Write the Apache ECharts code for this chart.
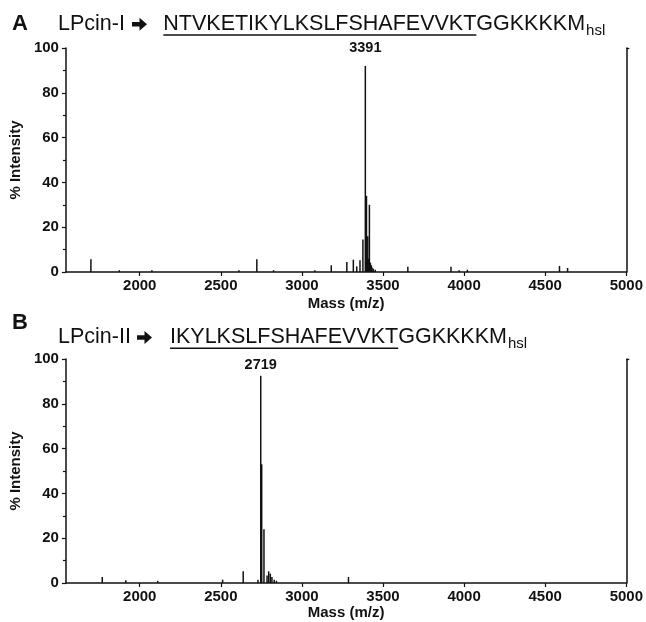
<!DOCTYPE html>
<html>
<head>
<meta charset="utf-8">
<title>LPcin MALDI spectra</title>
<script src="https://cdn.jsdelivr.net/npm/echarts@6/dist/echarts.min.js"></script>
<style>
  html, body { margin: 0; padding: 0; background: #fff; }
  #chart { width: 646px; height: 622px; }
</style>
</head>
<body>
<div id="chart"></div>
<script>
// axis ranges / ticks
const massMin = 1545
const massMax = 5000
const massTicks = [2000, 2500, 3000, 3500, 4000, 4500, 5000]

// panel A: LPcin-I
const massA = [1699, 1874, 2075, 2612, 2722, 2825, 3080, 3181, 3277, 3317, 3338, 3358, 3376,
  3391, 3398, 3403, 3406, 3411, 3416, 3422, 3428, 3432, 3440, 3452, 3653, 3919, 3969, 4020, 4588, 4638]
const intensA = [5.7, 0.8, 0.8, 0.8, 5.7, 0.8, 0.8, 3, 4.5, 5.5, 2.5, 5.2, 14.5,
  92, 34, 5, 16, 6, 30, 4.2, 3, 2, 1.5, 1, 2.3, 2.3, 0.8, 1, 2.7, 1.8]
const peakA = 3391
const peakLabelA = '3391'

// panel B: LPcin-II
const massB = [1769, 1914, 2111, 2511, 2638, 2729, 2746, 2752, 2766, 2785, 2795, 2805, 2815, 2829, 2843, 3287]
const intensB = [2.7, 1.2, 1, 1.5, 5.2, 1.5, 92.5, 53, 24, 3.4, 5.2, 4.2, 2.7, 1.5, 1, 2.7]
const peakB = 2746
const peakLabelB = '2719'

const FONT = 'Liberation Sans, Arial, sans-serif'
const INK = '#111'

var myChart = echarts.init(document.getElementById('chart'), null, { width: 646, height: 622 })

function peaks(mass, inten, main, labelText, dist) {
    return mass.map((m, i) => {
        let item = { value: [m, inten[i]] }
        if (m === main) {
            item.label = {
                show: true, position: 'top', distance: dist, formatter: labelText,
                fontFamily: FONT, fontWeight: 'bold', fontSize: 14.5, color: INK
            }
        }
        return item
    })
}

function xAxisFor(idx) {
    return {
        gridIndex: idx, type: 'value', min: massMin, max: massMax,
        name: 'Mass (m/z)', nameLocation: 'middle', nameGap: idx === 0 ? 24 : 21,
        nameTextStyle: { fontFamily: FONT, fontWeight: 'bold', fontSize: 15, color: INK },
        axisLine: { lineStyle: { color: INK, width: 1.5 } },
        axisTick: { customValues: massTicks, length: 4, lineStyle: { color: INK, width: 1.2 } },
        axisLabel: {
            customValues: massTicks, margin: 6, formatter: v => String(v),
            fontFamily: FONT, fontWeight: 'bold', fontSize: 15, color: INK
        },
        splitLine: { show: false }
    }
}

function yAxisFor(idx) {
    return {
        gridIndex: idx, type: 'value', min: 0, max: 100, interval: 20,
        name: '% Intensity', nameLocation: 'middle', nameGap: 27,
        nameTextStyle: { fontFamily: FONT, fontWeight: 'bold', fontSize: 15, color: INK },
        axisLine: { show: true, lineStyle: { color: INK, width: 1.5 } },
        axisTick: { show: true, length: 4, lineStyle: { color: INK, width: 1.2 } },
        minorTick: { show: true, splitNumber: 2, length: 3, lineStyle: { color: INK, width: 1.2 } },
        axisLabel: { margin: 7, fontFamily: FONT, fontWeight: 'bold', fontSize: 15, color: INK },
        splitLine: { show: false }
    }
}

function rightAxisFor(idx) {
    return {
        gridIndex: idx, type: 'value', position: 'right', min: 0, max: 100,
        axisLine: { show: true, lineStyle: { color: INK, width: 1.5 } },
        axisTick: { show: true, customValues: [100], length: 3, lineStyle: { color: INK, width: 1.2 } },
        axisLabel: { show: false },
        splitLine: { show: false }
    }
}

// title rows: letter, name, arrow, underlined part, rest, subscript
const ctx = document.createElement('canvas').getContext('2d')
function tw(s, size, weight) {
    ctx.font = (weight || 'normal') + ' ' + size + 'px ' + FONT
    return ctx.measureText(s).width
}
function txt(s, x, y, size, weight, family) {
    return {
        type: 'text', x: x, y: y,
        style: {
            text: s, fill: INK, fontSize: size, fontWeight: weight || 'normal', fontFamily: family || FONT,
            align: 'left', verticalAlign: 'middle', textAlign: 'left', textVerticalAlign: 'middle'
        }
    }
}
function arrow(x, y) {
    // heavy right arrow, 15px wide
    return {
        type: 'polygon',
        shape: {
            points: [[x, y - 2.2], [x + 7.5, y - 2.2], [x + 7.5, y - 6.5], [x + 15, y],
                [x + 7.5, y + 6.5], [x + 7.5, y + 2.2], [x, y + 2.2]]
        },
        style: { fill: INK }
    }
}
function titleRow(letter, letterY, name, seq, rest, y, nameX, arrowX, seqX) {
    const size = 21.5
    const w1 = tw(seq, size)
    const w2 = tw(rest, size)
    return [
        txt(letter, 12, letterY, 22, 'bold'),
        txt(name, nameX, y, size),
        arrow(arrowX, y),
        txt(seq, seqX, y, size),
        {
            type: 'line',
            shape: { x1: seqX, y1: y + 10.8, x2: seqX + w1, y2: y + 10.8 },
            style: { stroke: INK, lineWidth: 1.5 }
        },
        txt(rest, seqX + w1, y, size),
        txt('hsl', seqX + w1 + w2 + 1, y + 6.5, 15)
    ]
}

let option = {
    animation: false,
    backgroundColor: '#fff',
    grid: [
        { left: 55, top: 48, width: 573, height: 224 },
        { left: 55, top: 359, width: 573, height: 224 }
    ],
    xAxis: [xAxisFor(0), xAxisFor(1)],
    yAxis: [yAxisFor(0), rightAxisFor(0), yAxisFor(1), rightAxisFor(1)],
    series: [
        {
            type: 'bar', xAxisIndex: 0, yAxisIndex: 0, barWidth: 1.5,
            itemStyle: { color: INK },
            data: peaks(massA, intensA, peakA, peakLabelA, 10)
        },
        {
            type: 'bar', xAxisIndex: 1, yAxisIndex: 2, barWidth: 1.5,
            itemStyle: { color: INK },
            data: peaks(massB, intensB, peakB, peakLabelB, 3)
        }
    ],
    graphic: [
        ...titleRow('A', 24.2, 'LPcin-I', 'NTVKETIKYLKSLFSHAFEVVKT', 'GGKKKKM', 24.2, 58, 132, 163.3),
        ...titleRow('B', 323, 'LPcin-II', 'IKYLKSLFSHAFEVVKT', 'GGKKKKM', 337.5, 58, 137, 170)
    ]
}

option && myChart.setOption(option)
</script>
</body>
</html>
